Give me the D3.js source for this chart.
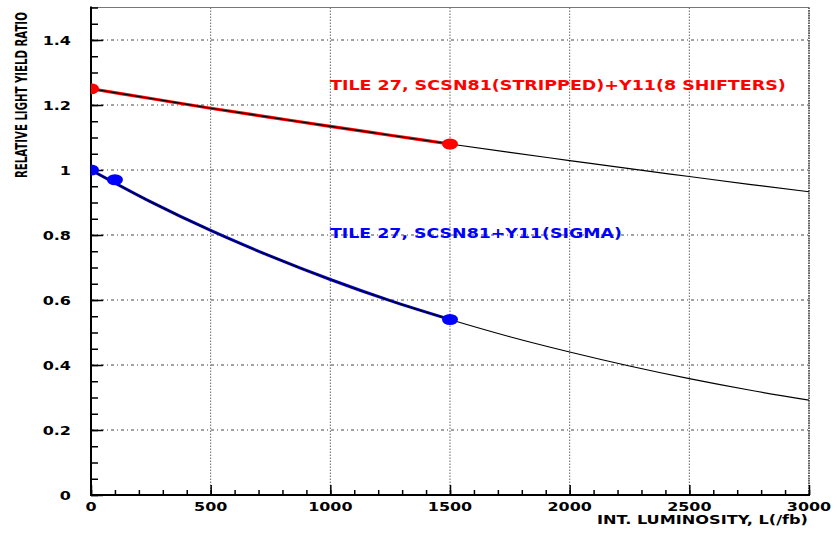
<!DOCTYPE html>
<html>
<head>
<meta charset="utf-8">
<script src="https://cdn.jsdelivr.net/npm/d3@7/dist/d3.min.js"></script>
<style>
  html, body { margin: 0; padding: 0; background: #fff; }
  svg { display: block; }
  text { font-family: "DejaVu Sans", sans-serif; font-weight: bold; }
</style>
</head>
<body>
<svg id="chart" width="837" height="534"></svg>
<script>
// Integrated luminosity (fb^-1) sampled along the fitted curves
const lumi = [0, 250, 500, 750, 1000, 1250, 1500, 1750, 2000, 2250, 2500, 2750, 3000];
// Relative light yield, stripped SCSN81 + Y11 (8 shifters)
const stripFit = [1.25, 1.22, 1.19, 1.162, 1.134, 1.107, 1.08, 1.054, 1.029, 1.004, 0.98, 0.956, 0.933];
// Relative light yield, SCSN81 + Y11 (Sigma)
const sigmaFit = [1.0, 0.902, 0.814, 0.735, 0.663, 0.598, 0.54, 0.487, 0.44, 0.397, 0.358, 0.323, 0.292];
// Measured points
const stripPtsX = [0, 1500];
const stripPtsY = [1.25, 1.08];
const sigmaPtsX = [0, 100, 1500];
const sigmaPtsY = [1.0, 0.97, 0.54];
// Axis ticks
const xTicks = [0, 500, 1000, 1500, 2000, 2500, 3000];
const yTicks = [0, 0.2, 0.4, 0.6, 0.8, 1, 1.2, 1.4];
const yTickLabels = ["0", "0.2", "0.4", "0.6", "0.8", "1", "1.2", "1.4"];
const measuredLimit = 1500;

const svg = d3.select("#chart");
const pLeft = 91, pRight = 809, pTop = 7.5, pBottom = 495;

const x = d3.scaleLinear().domain([0, 3000]).range([pLeft, pRight]);
const y = d3.scaleLinear().domain([0, 1.5]).range([pBottom, pTop]);

svg.append("defs").append("clipPath").attr("id", "plotClip")
  .append("rect").attr("x", pLeft).attr("y", pTop)
  .attr("width", pRight - pLeft).attr("height", pBottom - pTop);

// Grid
const grid = svg.append("g");
grid.selectAll(".vg").data(xTicks.slice(1)).join("line")
  .attr("x1", d => x(d)).attr("x2", d => x(d))
  .attr("y1", pTop).attr("y2", pBottom)
  .attr("stroke", "#666").attr("stroke-width", 1)
  .attr("stroke-dasharray", "1.5,1.5");
grid.selectAll(".hg").data(yTicks.slice(1)).join("line")
  .attr("x1", pLeft).attr("x2", pRight)
  .attr("y1", d => y(d)).attr("y2", d => y(d))
  .attr("stroke", "#444").attr("stroke-width", 1)
  .attr("stroke-dasharray", "3,3,1,3");

// Frame (top and right)
svg.append("line").attr("x1", pLeft).attr("x2", pRight).attr("y1", pTop).attr("y2", pTop)
  .attr("stroke", "#777").attr("stroke-width", 1);
svg.append("line").attr("x1", pRight).attr("x2", pRight).attr("y1", pTop).attr("y2", pBottom)
  .attr("stroke", "#666").attr("stroke-width", 2).attr("stroke-dasharray", "1.5,1");

// Axes with inward ticks
const xAxisMinor = d3.axisTop(x).tickValues(d3.range(0, 3001, 100)).tickSize(5).tickFormat("");
const xAxisMajor = d3.axisTop(x).tickValues(xTicks).tickSize(10).tickFormat("");
const yAxisMinor = d3.axisRight(y).tickValues(d3.range(0, 1.501, 0.05)).tickSize(7).tickFormat("");
const yAxisMajor = d3.axisRight(y).tickValues(yTicks).tickSize(12).tickFormat("");

function styleAxis(g) {
  g.select(".domain").remove();
  g.selectAll(".tick line").attr("stroke", "#000").attr("stroke-width", 1.5);
}
svg.append("g").attr("transform", `translate(0,${pBottom})`).call(xAxisMinor).call(styleAxis);
svg.append("g").attr("transform", `translate(0,${pBottom})`).call(xAxisMajor).call(styleAxis);
svg.append("g").attr("transform", `translate(${pLeft},0)`).call(yAxisMinor).call(styleAxis);
svg.append("g").attr("transform", `translate(${pLeft},0)`).call(yAxisMajor).call(styleAxis);

svg.append("line").attr("x1", pLeft).attr("x2", pRight + 1).attr("y1", pBottom).attr("y2", pBottom)
  .attr("stroke", "#000").attr("stroke-width", 2);
svg.append("line").attr("x1", pLeft).attr("x2", pLeft).attr("y1", pTop - 1).attr("y2", pBottom + 1)
  .attr("stroke", "#000").attr("stroke-width", 2);

// Text drawn at a natural size then stretched horizontally to a target width
function fitText(parent, str, opts) {
  const t = parent.append("text")
    .attr("font-size", opts.size)
    .attr("fill", opts.fill || "#000")
    .attr("text-anchor", opts.anchor || "start")
    .text(str);
  const natural = t.node().getComputedTextLength();
  const sx = opts.width ? opts.width / natural : (opts.sx || 1);
  t.attr("transform", `translate(${opts.x},${opts.y}) rotate(${opts.rotate || 0}) scale(${sx},1)`);
  return t;
}

const labels = svg.append("g");
xTicks.forEach(v => fitText(labels, String(v), { x: x(v), y: 510.5, size: 12, sx: 1.33, anchor: "middle" }));
yTicks.forEach((v, i) => fitText(labels, yTickLabels[i], { x: 71, y: y(v) + 4.5, size: 12.5, sx: 1.28, anchor: "end" }));

// Curves
const plot = svg.append("g").attr("clip-path", "url(#plotClip)");
const line = d3.line().x(d => x(d[0])).y(d => y(d[1])).curve(d3.curveMonotoneX);
const stripAll = lumi.map((l, i) => [l, stripFit[i]]);
const sigmaAll = lumi.map((l, i) => [l, sigmaFit[i]]);

plot.append("path").datum(stripAll.filter(d => d[0] <= measuredLimit))
  .attr("d", line).attr("fill", "none").attr("stroke", "#ff0000").attr("stroke-width", 3.2);
plot.append("path").datum(sigmaAll.filter(d => d[0] <= measuredLimit))
  .attr("d", line).attr("fill", "none").attr("stroke", "#0000ee").attr("stroke-width", 3);
plot.append("path").datum(stripAll)
  .attr("d", line).attr("fill", "none").attr("stroke", "#000").attr("stroke-width", 1.2);
plot.append("path").datum(sigmaAll)
  .attr("d", line).attr("fill", "none").attr("stroke", "#000").attr("stroke-width", 1.2);

// Markers
plot.selectAll(".sp").data(stripPtsX.map((v, i) => [v, stripPtsY[i]])).join("ellipse")
  .attr("cx", d => x(d[0])).attr("cy", d => y(d[1])).attr("rx", 8).attr("ry", 5.5)
  .attr("fill", "#ff0000");
plot.selectAll(".bp").data(sigmaPtsX.map((v, i) => [v, sigmaPtsY[i]])).join("ellipse")
  .attr("cx", d => x(d[0])).attr("cy", d => y(d[1])).attr("rx", 8).attr("ry", 5.5)
  .attr("fill", "#0000ff");

// Annotations
fitText(svg, "TILE 27, SCSN81(STRIPPED)+Y11(8 SHIFTERS)", { x: 330, y: 90, size: 14, width: 456, fill: "#ff0000" });
fitText(svg, "TILE 27, SCSN81+Y11(SIGMA)", { x: 330, y: 238, size: 14, width: 292, fill: "#0000ff" });

// Axis titles
fitText(svg, "INT. LUMINOSITY, L(/fb)", { x: 808, y: 523.5, size: 13, width: 211, anchor: "end" });
fitText(svg, "RELATIVE LIGHT YIELD RATIO", { x: 27, y: 178, size: 16, width: 166, rotate: -90 });
</script>
</body>
</html>
